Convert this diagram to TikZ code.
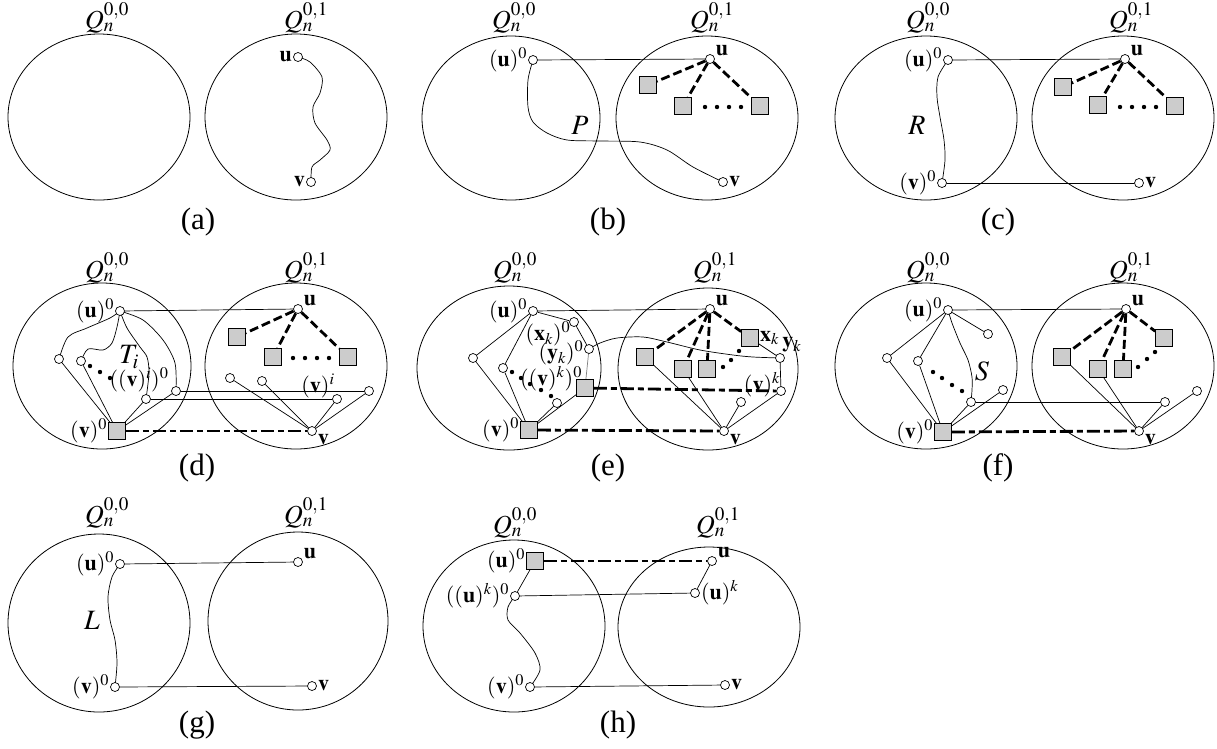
\documentclass[tikz,border=0pt]{standalone}
\usepackage{mathptmx}
\usepackage{fontspec}
\setmainfont{Liberation Serif}
\usetikzlibrary{backgrounds}

\newcommand{\bfu}{\mathbf{u}}
\newcommand{\bfv}{\mathbf{v}}

\tikzset{
  vtx/.style={circle, draw, fill=white, inner sep=0pt, minimum size=9pt, line width=0.7pt},
  sqr/.style={rectangle, draw, fill=gray!40, inner sep=0pt, minimum size=17pt, line width=0.7pt},
  link/.style={line width=0.7pt},
  bolddash/.style={line width=2.8pt, dash pattern=on 9pt off 4pt},
  dashdotline/.style={line width=2.8pt, dash pattern=on 13pt off 4pt on 6pt off 4pt},
  cube/.style={line width=0.8pt},
  qlbl/.style={font=\fontsize{26}{28}\selectfont},
  txt/.style={font=\fontsize{22}{24}\selectfont, inner sep=0pt},
  plbl/.style={font=\fontsize{28}{30}\selectfont},
  panel/.style={font=\fontsize{31}{33}\selectfont},
  every label/.style={font=\fontsize{22}{24}\selectfont, inner sep=1pt},
}

\begin{document}
\begin{tikzpicture}[x=1pt, y=-1pt]
    \useasboundingbox (0,0) rectangle (1217,748);

    % (a) a path from u to v inside Q_n^{0,1}
    \draw[cube] (99,117) ellipse (91 and 83);
    \draw[cube] (296,117) ellipse (91 and 83);
    \node[qlbl] (a-q0) at (107,18) {$Q_n^{0,0}$};
    \node[qlbl] (a-q1) at (306,18) {$Q_n^{0,1}$};
    \node[vtx, label=left:$\bfu$] (a-u) at (298,57) {};
    \node[vtx, label=left:$\bfv$] (a-v) at (311,182) {};
    \node[panel] (a-cap) at (198,222) {(a)};
    \begin{scope}[on background layer]
      \draw[link] plot[smooth] coordinates {(a-u) (310,62) (322,77) (320,93) (313,107) (315,123) (327,140) (330,150) (320,160) (312,167) (a-v)};
    \end{scope}

    % (b)
    \draw[cube] (511,118) ellipse (89 and 82);
    \draw[cube] (707,118) ellipse (91 and 82);
    \node[qlbl] (b-q0) at (514,18) {$Q_n^{0,0}$};
    \node[qlbl] (b-q1) at (712,18) {$Q_n^{0,1}$};
    \node[vtx, label=left:$(\bfu)^0$] (b-u0) at (533,60) {};
    \node[vtx, label=20:$\bfu$] (b-u) at (710,59) {};
    \node[vtx, label=right:$\bfv$] (b-v) at (723,182) {};
    \node[sqr] (b-s1) at (648,85) {};
    \node[sqr] (b-s2) at (683,106) {};
    \node[sqr] (b-s3) at (760,106) {};
    \foreach \x in {705,717,729,741} {
      \fill (\x,107) circle (2.2pt);
    }
    \node[plbl] (b-p) at (580,125) {$P$};
    \node[panel] (b-cap) at (608,222) {(b)};
    \begin{scope}[on background layer]
      \draw[link] (b-u0) -- (b-u);
      \draw[link] plot[smooth] coordinates {(b-u0) (528,80) (528,107) (533,122) (547,133) (567,140) (600,141) (640,142) (667,150) (693,167) (b-v)};
      \foreach \t in {b-s1,b-s2,b-s3} {
        \draw[bolddash] (b-u) -- (\t);
      }
    \end{scope}

    % (c)
    \draw[cube] (926,118) ellipse (91 and 82);
    \draw[cube] (1123,118) ellipse (91 and 82);
    \node[qlbl] (c-q0) at (928,18) {$Q_n^{0,0}$};
    \node[qlbl] (c-q1) at (1131,18) {$Q_n^{0,1}$};
    \node[vtx, label=left:$(\bfu)^0$] (c-u0) at (948,60) {};
    \node[vtx, label=20:$\bfu$] (c-u) at (1125,59) {};
    \node[vtx, label=left:$(\bfv)^0$] (c-v0) at (942,183) {};
    \node[vtx, label=right:$\bfv$] (c-v) at (1139,183) {};
    \node[sqr] (c-s1) at (1063,87) {};
    \node[sqr] (c-s2) at (1098,105) {};
    \node[sqr] (c-s3) at (1175,106) {};
    \foreach \x in {1120,1132,1144,1156} {
      \fill (\x,107) circle (2.2pt);
    }
    \node[plbl] (c-r) at (917,125) {$R$};
    \node[panel] (c-cap) at (998,222) {(c)};
    \begin{scope}[on background layer]
      \draw[link] (c-u0) -- (c-u);
      \draw[link] (c-v0) -- (c-v);
      \draw[link] plot[smooth] coordinates {(c-u0) (938,77) (937,97) (940,117) (944,140) (945,160) (c-v0)};
      \foreach \t in {c-s1,c-s2,c-s3} {
        \draw[bolddash] (c-u) -- (\t);
      }
    \end{scope}

    % (d)
    \draw[cube] (102,366) ellipse (89 and 83);
    \draw[cube] (296,366) ellipse (91 and 83);
    \node[qlbl] (d-q0) at (107,268) {$Q_n^{0,0}$};
    \node[qlbl] (d-q1) at (306,268) {$Q_n^{0,1}$};
    \node[vtx, label=left:$(\bfu)^0$] (d-u0) at (120,311) {};
    \node[vtx, label=20:$\bfu$] (d-u) at (298,309) {};
    \node[vtx] (d-a) at (59,359) {};
    \node[vtx] (d-b) at (81,361) {};
    \node[vtx] (d-c) at (146,399) {};
    \node[vtx] (d-d) at (176,391) {};
    \node[sqr, label=left:$(\bfv)^0$] (d-v0) at (117,431) {};
    \node[vtx] (d-e) at (230,378) {};
    \node[vtx] (d-f) at (262,381) {};
    \node[vtx] (d-g) at (337,399) {};
    \node[vtx] (d-h) at (369,391) {};
    \node[vtx, label=-20:$\bfv$] (d-v) at (312,431) {};
    \node[sqr] (d-s1) at (237,337) {};
    \node[sqr] (d-s2) at (273,357) {};
    \node[sqr] (d-s3) at (348,357) {};
    \foreach \x in {293,305,317,329} {
      \fill (\x,358) circle (2.2pt);
    }
    \foreach \x/\y in {90/366,100/372,110/378} {
      \fill (\x,\y) circle (2.2pt);
    }
    \node[plbl] (d-t) at (129,357) {$T_i$};
    \node[txt] (d-vi0) at (139,380) {$((\bfv)^i)^0$};
    \node[txt] (d-vi) at (318,386) {$(\bfv)^i$};
    \node[panel] (d-cap) at (197,468) {(d)};
    \begin{scope}[on background layer]
      \draw[link] (d-u0) -- (d-u);
      \draw[link] plot[smooth] coordinates {(d-u0) (110,318) (87,328) (68,337) (d-a)};
      \draw[link] plot[smooth] coordinates {(d-u0) (117,327) (112,343) (103,350) (88,349) (d-b)};
      \draw[link] plot[smooth] coordinates {(d-u0) (127,328) (140,347) (147,357) (149,373) (d-c)};
      \draw[link] plot[smooth] coordinates {(d-u0) (143,320) (163,340) (175,363) (d-d)};
      \foreach \t in {d-a,d-b,d-c,d-d} {
        \draw[link] (d-v0) -- (\t);
      }
      \foreach \t in {d-e,d-f,d-g,d-h} {
        \draw[link] (d-v) -- (\t);
      }
      \draw[link] (d-c) -- (d-g);
      \draw[link] (d-d) -- (d-h);
      \foreach \t in {d-s1,d-s2,d-s3} {
        \draw[bolddash] (d-u) -- (\t);
      }
      \draw[dashdotline] (d-v0) -- (d-v);
    \end{scope}

    % (e)
    \draw[cube] (509,368) ellipse (92 and 82);
    \draw[cube] (708,369) ellipse (90 and 81);
    \node[qlbl] (e-q0) at (515,268) {$Q_n^{0,0}$};
    \node[qlbl] (e-q1) at (715,268) {$Q_n^{0,1}$};
    \node[vtx, label=left:$(\bfu)^0$] (e-u0) at (533,311) {};
    \node[vtx, label=20:$\bfu$] (e-u) at (710,309) {};
    \node[vtx] (e-a) at (473,358) {};
    \node[vtx] (e-b) at (503,368) {};
    \node[vtx] (e-x0) at (574,322) {};
    \node[vtx] (e-y0) at (589,349) {};
    \node[sqr] (e-sq) at (585,388) {};
    \node[vtx] (e-c) at (557,403) {};
    \node[sqr, label=left:$(\bfv)^0$] (e-v0) at (529,430) {};
    \node[sqr] (e-s1) at (645,357) {};
    \node[sqr] (e-s2) at (683,369) {};
    \node[sqr] (e-s3) at (707,369) {};
    \node[sqr, label=right:$\mathbf{x}_k$] (e-xk) at (750,338) {};
    \node[vtx, label=75:$\mathbf{y}_k$] (e-yk) at (780,358) {};
    \node[vtx] (e-yy) at (781,391) {};
    \node[vtx] (e-d) at (741,402) {};
    \node[vtx, label=-20:$\bfv$] (e-v) at (724,431) {};
    \foreach \x/\y in {512/372,521/378,530/384,541/390,551/396,723/367,731/360,739/351} {
      \fill (\x,\y) circle (2.2pt);
    }
    \node[txt] (e-xk0) at (548,334) {$(\mathbf{x}_k)^0$};
    \node[txt] (e-yk0) at (561,353) {$(\mathbf{y}_k)^0$};
    \node[txt] (e-vk0) at (551,379) {$((\bfv)^k)^0$};
    \node[txt] (e-vk) at (762,385) {$(\bfv)^k$};
    \node[panel] (e-cap) at (608,468) {(e)};
    \begin{scope}[on background layer]
      \draw[link] (e-u0) -- (e-u);
      \foreach \t in {e-a,e-b,e-x0} {
        \draw[link] (e-u0) -- (\t);
      }
      \foreach \t in {e-a,e-b,e-c,e-sq} {
        \draw[link] (e-v0) -- (\t);
      }
      \draw[link] (e-x0) -- (e-y0);
      \draw[link, gray] (e-y0) -- (e-sq);
      \draw[link] plot[smooth] coordinates {(e-y0) (600,343) (617,338) (643,337) (667,342) (700,350) (733,355) (753,357) (e-yk)};
      \foreach \t in {e-s1,e-s2,e-s3,e-xk} {
        \draw[bolddash] (e-u) -- (\t);
      }
      \draw[link] (e-xk) -- (e-yk);
      \draw[link] (e-yk) -- (e-yy);
      \foreach \t in {e-s1,e-s2,e-d,e-yy} {
        \draw[link] (e-v) -- (\t);
      }
      \draw[dashdotline] (e-sq) -- (e-yy);
      \draw[dashdotline] (e-v0) -- (e-v);
    \end{scope}

    % (f)
    \draw[cube] (926,366) ellipse (91 and 83);
    \draw[cube] (1123,366) ellipse (91 and 83);
    \node[qlbl] (f-q0) at (928,268) {$Q_n^{0,0}$};
    \node[qlbl] (f-q1) at (1131,268) {$Q_n^{0,1}$};
    \node[vtx, label=left:$(\bfu)^0$] (f-u0) at (948,310) {};
    \node[vtx, label=20:$\bfu$] (f-u) at (1126,309) {};
    \node[vtx] (f-a) at (887,358) {};
    \node[vtx] (f-b) at (918,361) {};
    \node[vtx] (f-c) at (988,334) {};
    \node[vtx] (f-d) at (971,402) {};
    \node[vtx] (f-e) at (1003,390) {};
    \node[sqr, label=left:$(\bfv)^0$] (f-v0) at (943,432) {};
    \node[sqr] (f-s1) at (1062,357) {};
    \node[sqr] (f-s2) at (1098,369) {};
    \node[sqr] (f-s3) at (1123,369) {};
    \node[sqr] (f-s4) at (1164,338) {};
    \node[vtx] (f-g) at (1165,402) {};
    \node[vtx] (f-h) at (1197,391) {};
    \node[vtx, label=-20:$\bfv$] (f-v) at (1139,431) {};
    \foreach \x/\y in {933/372,942/378,952/385,962/391,1138/367,1147/359,1155/352} {
      \fill (\x,\y) circle (2.2pt);
    }
    \node[plbl] (f-s) at (982,371) {$S$};
    \node[panel] (f-cap) at (998,468) {(f)};
    \begin{scope}[on background layer]
      \draw[link] (f-u0) -- (f-u);
      \foreach \t in {f-a,f-b,f-c} {
        \draw[link] (f-u0) -- (\t);
      }
      \draw[link] plot[smooth] coordinates {(f-u0) (952,323) (960,343) (968,360) (972,377) (972,390) (f-d)};
      \foreach \t in {f-a,f-b,f-d,f-e} {
        \draw[link] (f-v0) -- (\t);
      }
      \draw[link] (f-d) -- (f-g);
      \foreach \t in {f-s1,f-s2,f-s3,f-s4} {
        \draw[bolddash] (f-u) -- (\t);
      }
      \foreach \t in {f-s1,f-s2,f-g,f-h} {
        \draw[link] (f-v) -- (\t);
      }
      \draw[dashdotline] (f-v0) -- (f-v);
    \end{scope}

    % (g)
    \draw[cube] (99,623) ellipse (91 and 89);
    \draw[cube] (298,621) ellipse (90 and 89);
    \node[qlbl] (g-q0) at (107,513) {$Q_n^{0,0}$};
    \node[qlbl] (g-q1) at (306,513) {$Q_n^{0,1}$};
    \node[vtx, label=left:$(\bfu)^0$] (g-u0) at (120,564) {};
    \node[vtx, label=20:$\bfu$] (g-u) at (298,562) {};
    \node[vtx, label=left:$(\bfv)^0$] (g-v0) at (115,687) {};
    \node[vtx, label=right:$\bfv$] (g-v) at (312,686) {};
    \node[plbl] (g-l) at (92,620) {$L$};
    \node[panel] (g-cap) at (197,725) {(g)};
    \begin{scope}[on background layer]
      \draw[link] (g-u0) -- (g-u);
      \draw[link] (g-v0) -- (g-v);
      \draw[link] plot[smooth] coordinates {(g-u0) (112,577) (108,597) (110,620) (115,640) (117,663) (g-v0)};
    \end{scope}

    % (h)
    \draw[cube] (514,626) ellipse (91 and 86);
    \draw[cube] (709,627) ellipse (91 and 80);
    \node[qlbl] (h-q0) at (515,523) {$Q_n^{0,0}$};
    \node[qlbl] (h-q1) at (718,523) {$Q_n^{0,1}$};
    \node[sqr, label=left:$(\bfu)^0$] (h-u0) at (535,561) {};
    \node[vtx, label=20:$\bfu$] (h-u) at (712,561) {};
    \node[vtx, label=left:$((\bfu)^k)^0$] (h-uk0) at (515,596) {};
    \node[vtx, label=right:$(\bfu)^k$] (h-uk) at (695,593) {};
    \node[vtx, label=left:$(\bfv)^0$] (h-v0) at (530,687) {};
    \node[vtx, label=right:$\bfv$] (h-v) at (725,685) {};
    \node[panel] (h-cap) at (618,725) {(h)};
    \begin{scope}[on background layer]
      \draw[dashdotline] (h-u0) -- (h-u);
      \draw[link] (h-u0) -- (h-uk0);
      \draw[link] (h-uk0) -- (h-uk);
      \draw[link] (h-u) -- (h-uk);
      \draw[link] (h-v0) -- (h-v);
      \draw[link] plot[smooth] coordinates {(h-uk0) (508,607) (508,620) (520,633) (535,653) (540,670) (h-v0)};
    \end{scope}
\end{tikzpicture}
\end{document}
